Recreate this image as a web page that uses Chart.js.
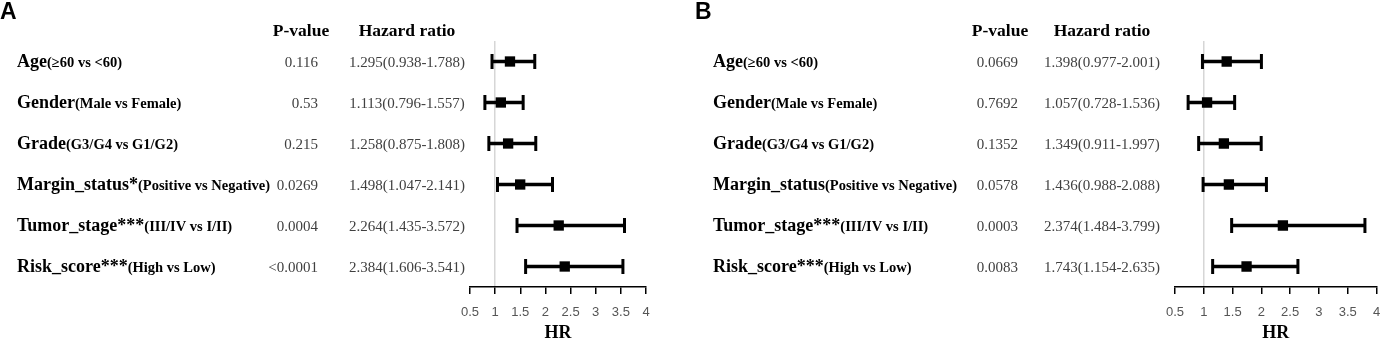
<!DOCTYPE html>
<html>
<head>
<meta charset="utf-8">
<script src="https://cdn.jsdelivr.net/npm/chart.js@4"></script>
<style>
  body { margin: 0; background: #fff; }
  canvas { position: absolute; top: 0; }
</style>
</head>
<body>
<canvas id="chartA" width="690" height="338" style="left:0"></canvas>
<canvas id="chartB" width="697" height="338" style="left:690px"></canvas>
<script>
// data
const variables = ['Age', 'Gender', 'Grade', 'Margin_status', 'Tumor_stage', 'Risk_score'];
const comparisons = ['(≥60 vs <60)', '(Male vs Female)', '(G3/G4 vs G1/G2)', '(Positive vs Negative)', '(III/IV vs I/II)', '(High vs Low)'];
const xTicks = [0.5, 1, 1.5, 2, 2.5, 3, 3.5, 4];

const starsA = ['', '', '', '*', '***', '***'];
const pValuesA = ['0.116', '0.53', '0.215', '0.0269', '0.0004', '<0.0001'];
const hrA = [1.295, 1.113, 1.258, 1.498, 2.264, 2.384];
const lowerA = [0.938, 0.796, 0.875, 1.047, 1.435, 1.606];
const upperA = [1.788, 1.557, 1.808, 2.141, 3.572, 3.541];

const starsB = ['', '', '', '', '***', '***'];
const pValuesB = ['0.0669', '0.7692', '0.1352', '0.0578', '0.0003', '0.0083'];
const hrB = [1.398, 1.057, 1.349, 1.436, 2.374, 1.743];
const lowerB = [0.977, 0.728, 0.911, 0.988, 1.484, 1.154];
const upperB = [2.001, 1.536, 1.997, 2.088, 3.799, 2.635];

const serif = '"Liberation Serif", "Times New Roman", serif';

// table text next to the plot
const tablePlugin = {
  id: 'table',
  afterDraw(chart, args, o) {
    const ctx = chart.ctx;
    const y = chart.scales.y;
    ctx.save();
    ctx.fillStyle = '#000';
    ctx.textBaseline = 'middle';
    ctx.font = 'bold 23px "Liberation Sans", Arial, sans-serif';
    ctx.textAlign = 'left';
    ctx.fillText(o.letter, o.letterX, 13);

    ctx.font = 'bold 17.5px ' + serif;
    ctx.textAlign = 'center';
    ctx.fillText('P-value', o.pHeadX, 31);
    ctx.fillText('Hazard ratio', o.hrX, 31);

    ctx.textBaseline = 'alphabetic';
    o.names.forEach((name, i) => {
      const py = y.getPixelForValue(i) + 5;
      ctx.fillStyle = '#000';
      ctx.textAlign = 'left';
      ctx.font = 'bold 18px ' + serif;
      const main = name + o.stars[i];
      ctx.fillText(main, o.labelX, py);
      const w = ctx.measureText(main).width;
      ctx.font = 'bold 14.5px ' + serif;
      ctx.fillText(comparisons[i], o.labelX + w, py);

      ctx.fillStyle = '#404040';
      ctx.font = '15px ' + serif;
      ctx.textAlign = 'right';
      ctx.fillText(o.pValues[i], o.pX, py);
      ctx.textAlign = 'center';
      const txt = o.hr[i].toFixed(3) + '(' + o.lower[i].toFixed(3) + '-' + o.upper[i].toFixed(3) + ')';
      ctx.fillText(txt, o.hrX, py);
    });
    ctx.restore();
  }
};

function makePanel(id, padLeft, padRight, table) {
  const rows = variables.map((v, i) => i);
  return new Chart(document.getElementById(id), {
    type: 'scatter',
    data: {
      datasets: [
        {
          type: 'bar',
          indexAxis: 'y',
          data: rows.map(i => ({ x: [table.lower[i], table.upper[i]], y: i })),
          backgroundColor: '#000',
          borderWidth: 0,
          barThickness: 3
        },
        {
          data: rows.flatMap(i => [{ x: table.lower[i], y: i }, { x: table.upper[i], y: i }]),
          pointStyle: 'line',
          rotation: 90,
          radius: 7.5,
          borderWidth: 3,
          borderColor: '#000'
        },
        {
          data: rows.map(i => ({ x: table.hr[i], y: i })),
          pointStyle: 'rect',
          radius: 7.3,
          backgroundColor: '#000',
          borderWidth: 0
        }
      ]
    },
    options: {
      responsive: false,
      animation: false,
      devicePixelRatio: 1,
      layout: { padding: { left: padLeft, right: padRight, top: 41, bottom: 0 } },
      plugins: {
        legend: { display: false },
        tooltip: { enabled: false },
        table: table
      },
      scales: {
        x: {
          type: 'linear',
          min: 0.5,
          max: 4,
          offset: false,
          afterBuildTicks: s => { s.ticks = xTicks.map(v => ({ value: v })); },
          afterFit: s => { s.height = 51; s.paddingLeft = 0; s.paddingRight = 0; },
          border: { display: true, color: '#000', width: 1.5 },
          grid: {
            drawOnChartArea: true,
            color: c => (c.tick && c.tick.value === 1 ? '#d6d6d6' : 'rgba(0,0,0,0)'),
            lineWidth: 1.5,
            tickColor: '#000',
            tickLength: 7
          },
          ticks: {
            padding: 11,
            color: '#555',
            font: { family: '"Liberation Sans", Arial, sans-serif', size: 13 },
            callback: v => String(v)
          },
          title: {
            display: true,
            text: 'HR',
            color: '#000',
            padding: 0,
            font: { family: serif, size: 18, weight: 'bold', lineHeight: 0.5 }
          }
        },
        y: {
          type: 'linear',
          min: -0.5,
          max: 5.5,
          offset: false,
          reverse: true,
          display: false
        }
      }
    },
    plugins: [tablePlugin]
  });
}

makePanel('chartA', 470, 44, {
  letter: 'A', letterX: 0, labelX: 17, pHeadX: 301, pX: 318, hrX: 407,
  names: variables, stars: starsA, pValues: pValuesA, hr: hrA, lower: lowerA, upper: upperA
});
makePanel('chartB', 485, 2, {
  letter: 'B', letterX: 5, labelX: 23, pHeadX: 310, pX: 328, hrX: 412,
  names: variables, stars: starsB, pValues: pValuesB, hr: hrB, lower: lowerB, upper: upperB
});
</script>
</body>
</html>
